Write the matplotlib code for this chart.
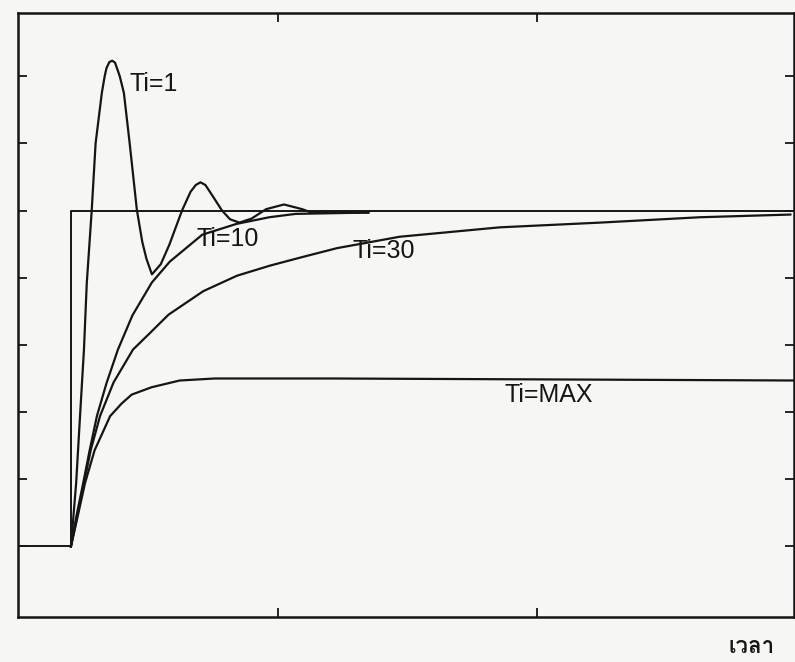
import matplotlib
matplotlib.use('Agg')
import matplotlib.pyplot as plt
from matplotlib import font_manager as fm
from matplotlib.ft2font import FT2Font

# step input: level 1 before t=0.2, then setpoint 6
step_t = [0.0, 0.204, 0.204, 3.0]
step_y = [1.0, 1.0, 6.0, 6.0]

# Ti = 1
ti1_t = [0.204, 0.224, 0.239, 0.254, 0.265, 0.284, 0.299, 0.323, 0.334, 0.341,
         0.352, 0.363, 0.374, 0.392, 0.408, 0.430, 0.458, 0.479, 0.495, 0.516,
         0.550, 0.583, 0.632, 0.665, 0.685, 0.703, 0.722, 0.746, 0.786, 0.817,
         0.853, 0.900, 0.956, 1.025, 1.095, 1.130, 1.200, 1.350]
ti1_y = [1.00, 1.94, 2.94, 3.92, 4.92, 6.00, 7.00, 7.75, 8.00, 8.12,
         8.21, 8.23, 8.20, 8.00, 7.75, 7.01, 6.01, 5.53, 5.28, 5.05,
         5.20, 5.49, 6.00, 6.28, 6.38, 6.42, 6.38, 6.24, 6.00, 5.87,
         5.82, 5.88, 6.02, 6.09, 6.02, 5.97, 5.97, 5.97]

# Ti = 10
ti10_t = [0.204, 0.225, 0.251, 0.276, 0.304, 0.341, 0.385, 0.441, 0.516, 0.585,
          0.710, 0.841, 0.968, 1.070, 1.350]
ti10_y = [1.00, 1.45, 1.94, 2.43, 2.94, 3.43, 3.93, 4.44, 4.93, 5.24,
          5.64, 5.80, 5.90, 5.95, 5.97]

# Ti = 30
ti30_t = [0.204, 0.228, 0.254, 0.280, 0.316, 0.368, 0.443, 0.512, 0.580, 0.714,
          0.844, 0.971, 1.098, 1.229, 1.471, 1.857, 2.242, 2.628, 2.976]
ti30_y = [1.00, 1.45, 1.94, 2.43, 2.94, 3.44, 3.93, 4.19, 4.45, 4.80,
          5.03, 5.18, 5.31, 5.44, 5.61, 5.75, 5.82, 5.90, 5.94]

# Ti = MAX (P only)
timax_t = [0.204, 0.230, 0.258, 0.295, 0.355, 0.400, 0.438, 0.515, 0.623, 0.758,
           1.210, 3.000]
timax_y = [1.00, 1.45, 1.94, 2.43, 2.94, 3.13, 3.26, 3.37, 3.47, 3.50,
           3.50, 3.47]

labels = ['Ti=1', 'Ti=10', 'Ti=30', 'Ti=MAX']
label_x = [0.43, 0.687, 1.287, 1.875]
label_y = [7.88, 5.58, 5.40, 3.26]


def thai_family():
    # first installed font that has Thai glyphs
    for f in fm.fontManager.ttflist:
        try:
            if FT2Font(f.fname).get_char_index(ord('ว')):
                return f.name
        except Exception:
            pass
    return 'DejaVu Sans'


ink = '#151515'
fig = plt.figure(figsize=(7.95, 6.62), dpi=100, facecolor='#f6f6f4')
ax = fig.add_axes([18 / 795, 1 - 617 / 662, 776 / 795, 604 / 662])
ax.set_facecolor('#f6f6f4')

ax.plot(step_t, step_y, color=ink, lw=1.4)
ax.plot(ti1_t, ti1_y, color=ink, lw=1.6)
ax.plot(ti10_t, ti10_y, color=ink, lw=1.6)
ax.plot(ti30_t, ti30_y, color=ink, lw=1.6)
ax.plot(timax_t, timax_y, color=ink, lw=1.6)

for txt, lx, ly in zip(labels, label_x, label_y):
    ax.text(lx, ly, txt, fontsize=18, family='Liberation Sans',
            ha='left', va='center', color=ink)

ax.set_xlim(0, 2.99)
ax.set_ylim(-0.05, 8.94)
ax.set_xticks([1, 2])
ax.set_yticks(range(1, 9))
ax.tick_params(direction='in', length=6.5, width=1.3, color=ink,
               top=True, right=True, labelbottom=False, labelleft=False)
for s in ax.spines.values():
    s.set_linewidth(1.8)
    s.set_color(ink)

fig.text(752 / 795, 1 - 647 / 662, 'เวลา', family=thai_family(),
         fontsize=16, fontweight='bold', ha='center', va='center', color=ink)

fig.savefig('out.png', dpi=100, facecolor=fig.get_facecolor())
